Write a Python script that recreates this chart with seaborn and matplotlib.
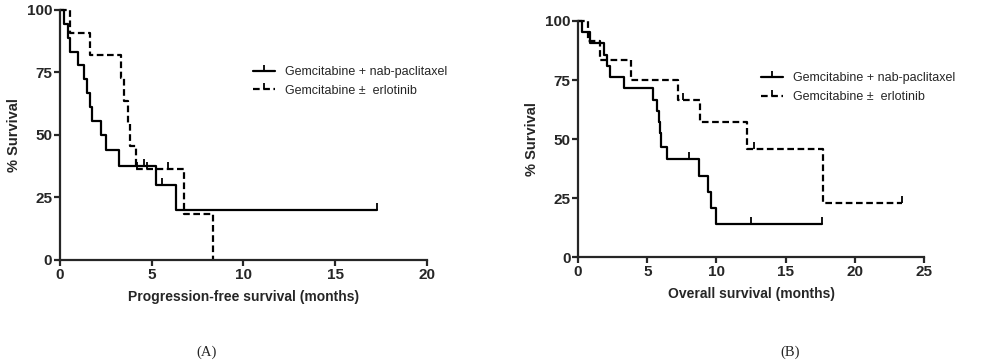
import pandas as pd
import matplotlib
matplotlib.use("Agg")
import matplotlib.pyplot as plt
from matplotlib.lines import Line2D
import seaborn as sns

# group names
group_names = ["Gemcitabine + nab-paclitaxel", "Gemcitabine \u00b1  erlotinib"]

# (A) progression-free survival, step curves (time in months, % survival)
pfs_nab_t = [0, 0.2, 0.45, 0.55, 1.0, 1.3, 1.45, 1.65, 1.75, 2.25, 2.5, 3.2, 5.25, 6.3, 17.25]
pfs_nab_s = [100, 94.4, 88.9, 83.3, 77.8, 72.2, 66.7, 61.1, 55.6, 50.0, 43.8, 37.5, 30.0, 20.0, 20.0]
pfs_nab_cens_t = [4.6, 5.55, 17.25]
pfs_nab_cens_s = [37.5, 30.0, 20.0]

pfs_erl_t = [0, 0.55, 1.65, 3.3, 3.5, 3.72, 3.82, 4.12, 6.75, 8.35]
pfs_erl_s = [100, 90.9, 81.8, 72.7, 63.6, 54.5, 45.5, 36.4, 18.2, 0]
pfs_erl_cens_t = [4.2, 4.75, 5.9]
pfs_erl_cens_s = [36.4, 36.4, 36.4]

# (B) overall survival
os_nab_t = [0, 0.3, 0.9, 1.9, 2.1, 2.3, 3.3, 5.4, 5.7, 5.85, 5.95, 6.0, 6.45, 8.75, 9.4, 9.6, 9.95, 17.6]
os_nab_s = [100, 95.2, 90.5, 85.7, 81.0, 76.2, 71.4, 66.7, 61.9, 57.1, 52.4, 46.6, 41.4, 34.5, 27.6, 20.7, 13.8, 13.8]
os_nab_cens_t = [8.0, 12.5, 17.6]
os_nab_cens_s = [41.4, 13.8, 13.8]

os_erl_t = [0, 0.7, 1.6, 3.8, 7.2, 8.8, 12.2, 17.7, 23.4]
os_erl_s = [100, 91.7, 83.3, 75.0, 66.7, 57.1, 45.7, 22.9, 22.9]
os_erl_cens_t = [7.6, 12.7, 23.4]
os_erl_cens_s = [66.7, 45.7, 22.9]

y_ticks = [0, 25, 50, 75, 100]


def make_df(t1, s1, t2, s2):
    d1 = pd.DataFrame({"time": t1, "surv": s1, "group": group_names[0]})
    d2 = pd.DataFrame({"time": t2, "surv": s2, "group": group_names[1]})
    return pd.concat([d1, d2], ignore_index=True)


sns.set_style("ticks")
plt.rcParams["font.family"] = ["Liberation Sans", "DejaVu Sans"]

fig = plt.figure(figsize=(10.03, 3.62), dpi=100)
axA = fig.add_axes([0.0598, 0.2818, 0.3659, 0.6906])
axB = fig.add_axes([0.5763, 0.2900, 0.3450, 0.6520])

dash_pat = (3, 1.6)


def km_panel(ax, df, cens, xmax, xticks, xlabel):
    sns.lineplot(data=df, x="time", y="surv", style="group",
                 dashes={group_names[0]: "", group_names[1]: dash_pat},
                 color="black", linewidth=1.6, drawstyle="steps-post",
                 estimator=None, sort=False, legend=False, ax=ax)
    for (ct, cs) in cens:
        sns.scatterplot(x=ct, y=cs, marker=2, s=22, color="black",
                        linewidth=1.3, ax=ax, legend=False)
    ax.set_xlim(0, xmax)
    ax.set_ylim(0, 100)
    ax.set_xticks(xticks)
    ax.set_yticks(y_ticks)
    sns.despine(ax=ax)
    for sp in ["left", "bottom"]:
        ax.spines[sp].set_linewidth(1.6)
    ax.tick_params(width=1.6, length=4.5, labelsize=11, pad=1)
    for lb in ax.get_xticklabels() + ax.get_yticklabels():
        lb.set_fontweight("bold")
    ax.set_xlabel(xlabel, fontsize=10, fontweight="bold", labelpad=6)
    ax.set_ylabel("% Survival", fontsize=10.5, fontweight="bold", labelpad=4)
    for ln in ax.lines:
        ln.set_clip_on(False)


dfA = make_df(pfs_nab_t, pfs_nab_s, pfs_erl_t, pfs_erl_s)
km_panel(axA, dfA, [(pfs_nab_cens_t, pfs_nab_cens_s), (pfs_erl_cens_t, pfs_erl_cens_s)],
         20, [0, 5, 10, 15, 20], "Progression-free survival (months)")

dfB = make_df(os_nab_t, os_nab_s, os_erl_t, os_erl_s)
km_panel(axB, dfB, [(os_nab_cens_t, os_nab_cens_s), (os_erl_cens_t, os_erl_cens_s)],
         25, [0, 5, 10, 15, 20, 25], "Overall survival (months)")

handles = [Line2D([], [], color="black", lw=1.6, marker=2, ms=4, mew=1.3),
           Line2D([], [], color="black", lw=1.6, ls=(0, dash_pat), marker=2, ms=4, mew=1.3)]
for ax, (lx, ly) in [(axA, (0.2522, 0.818)), (axB, (0.7587, 0.801))]:
    ax.legend(handles, group_names, loc="upper left", bbox_to_anchor=(lx, ly),
              bbox_transform=fig.transFigure, frameon=False, fontsize=9,
              handlelength=1.8, handletextpad=0.8, borderpad=0, borderaxespad=0,
              labelspacing=0.55, numpoints=1)

fig.text(0.2064, 0.028, "(A)", ha="center", va="center", fontsize=10.5,
         family=["Liberation Serif", "DejaVu Serif"])
fig.text(0.7876, 0.028, "(B)", ha="center", va="center", fontsize=10.5,
         family=["Liberation Serif", "DejaVu Serif"])

fig.savefig("out.png", dpi=100)
